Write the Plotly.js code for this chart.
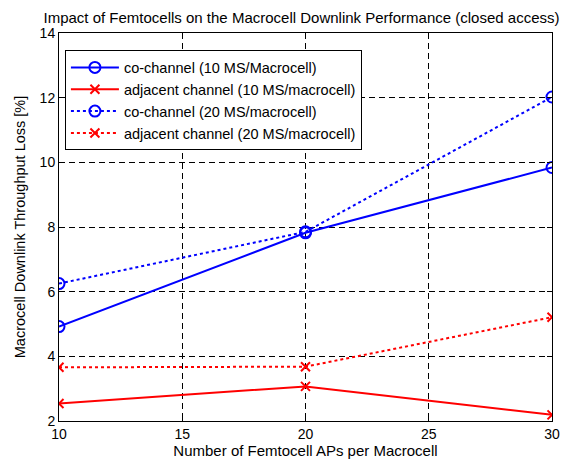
<!DOCTYPE html>
<html><head><meta charset="utf-8">
<script src="https://cdn.plot.ly/plotly-3.0.1.min.js"></script>
<style>html,body{margin:0;padding:0;background:#fff;}#chart{width:571px;height:462px;}</style>
</head><body><div id="chart"></div>
<script>
const femtoAPs = [10, 20, 30];
const coChannel10 = [4.92, 7.82, 9.84];
const adjChannel10 = [2.54, 3.07, 2.19];
const coChannel20 = [6.25, 7.85, 12.02];
const adjChannel20 = [3.66, 3.68, 5.21];
const seriesNames = [
  'co-channel (10 MS/Macrocell)',
  'adjacent channel (10 MS/macrocell)',
  'co-channel (20 MS/macrocell)',
  'adjacent channel (20 MS/macrocell)'
];

const blue = '#0000ff', red = '#ff0000';
function tr(y, name, color, dash, sym) {
  return {
    x: femtoAPs, y: y, name: name, type: 'scatter', mode: 'lines+markers',
    line: {color: color, width: 2, dash: dash},
    marker: {symbol: sym, size: sym === 'circle-open' ? 11 : 9, color: color, line: {color: color, width: 2}}
  };
}
const data = [
  tr(coChannel10, seriesNames[0], blue, 'solid', 'circle-open'),
  tr(adjChannel10, seriesNames[1], red, 'solid', 'x-thin-open'),
  tr(coChannel20, seriesNames[2], blue, 'dot', 'circle-open'),
  tr(adjChannel20, seriesNames[3], red, 'dot', 'x-thin-open')
];
const FONT = 'Liberation Sans, Arial, sans-serif';
const axisCommon = {
  showline: true, linecolor: '#000', linewidth: 1, mirror: 'ticks',
  ticks: 'inside', ticklen: 5, tickcolor: '#000',
  showgrid: true, gridcolor: '#000', gridwidth: 1, griddash: '6px,4px',
  zeroline: false,
  tickfont: {family: FONT, size: 14, color: '#000'}
};
const layout = {
  width: 571, height: 462,
  margin: {l: 59, r: 19, t: 33, b: 41},
  paper_bgcolor: '#fff', plot_bgcolor: '#fff',
  font: {family: FONT, color: '#000'},
  title: {text: 'Impact of Femtocells on the Macrocell Downlink Performance (closed access)',
          font: {size: 15, color: '#000'}, x: 0.528, xanchor: 'center', y: 0.962, yanchor: 'middle'},
  xaxis: Object.assign({}, axisCommon, {range: [10, 30], tickvals: [10, 15, 20, 25, 30],
          title: {text: 'Number of Femtocell APs per Macrocell', font: {size: 15}, standoff: 2}}),
  yaxis: Object.assign({}, axisCommon, {range: [2, 14], tickvals: [2, 4, 6, 8, 10, 12, 14],
          title: {text: 'Macrocell Downlink Throughput Loss [%]', font: {size: 14.5}, standoff: 10}}),
  showlegend: true,
  legend: {x: 0.012, y: 0.955, xanchor: 'left', yanchor: 'top',
           bgcolor: '#fff', bordercolor: '#000', borderwidth: 1,
           font: {size: 14.5, color: '#000'}, tracegroupgap: 0, itemwidth: 48}
};
Plotly.newPlot('chart', data, layout, {displayModeBar: false, staticPlot: true});
</script></body></html>
